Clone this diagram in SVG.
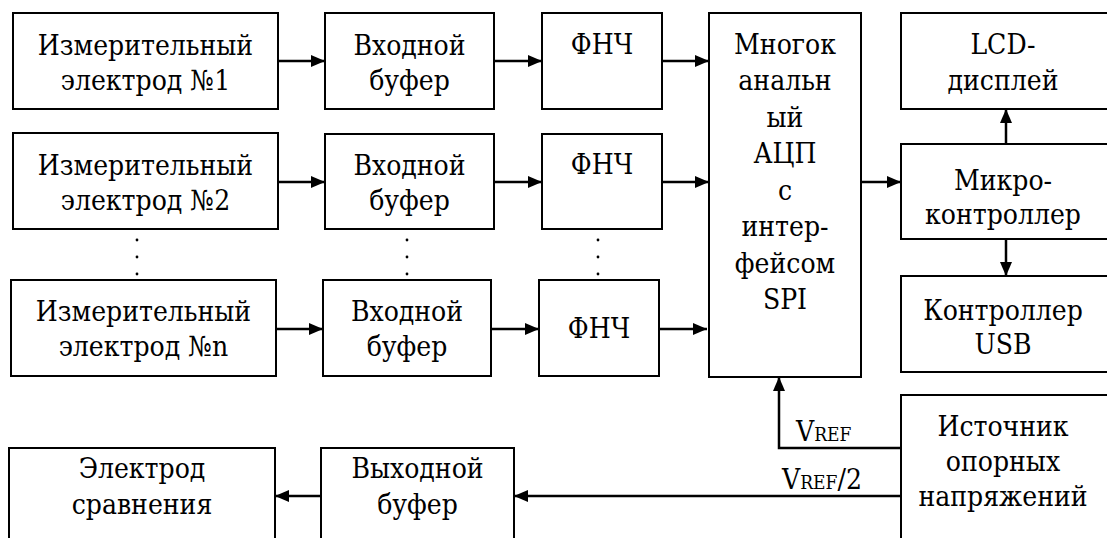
<svg xmlns="http://www.w3.org/2000/svg" width="1107" height="538" viewBox="0 0 1107 538">
<style>
.box{fill:#fff;stroke:#000;stroke-width:2}
text{font-family:"DejaVu Serif Condensed","DejaVu Serif",serif;font-stretch:condensed;font-size:28px;fill:#000}
.t{text-anchor:middle}
.sub{font-size:19px}
.c{stroke:#000;stroke-width:2.5;fill:none}
</style>
<defs>
<marker id="ah" viewBox="0 0 14 12" refX="14" refY="6" markerWidth="14" markerHeight="12" markerUnits="userSpaceOnUse" orient="auto">
<path d="M0,0 L14,6 L0,12 Z" fill="#000"/>
</marker>
</defs>
<rect width="1107" height="538" fill="#fff"/>
<g id="el1"><rect class="box" x="13" y="13" width="265" height="96"/><text class="t" x="145.5" y="55">Измерительный</text><text class="t" x="145.5" y="90">электрод №1</text></g>
<g id="el2"><rect class="box" x="13" y="133" width="265" height="96"/><text class="t" x="145.5" y="175">Измерительный</text><text class="t" x="145.5" y="210">электрод №2</text></g>
<g id="eln"><rect class="box" x="11" y="280" width="265" height="96"/><text class="t" x="143.5" y="321">Измерительный</text><text class="t" x="143.5" y="356">электрод №n</text></g>
<g id="buf1"><rect class="box" x="325" y="13" width="169" height="96"/><text class="t" x="409.5" y="55">Входной</text><text class="t" x="409.5" y="90">буфер</text></g>
<g id="buf2"><rect class="box" x="325" y="134" width="169" height="95"/><text class="t" x="409.5" y="175">Входной</text><text class="t" x="409.5" y="210">буфер</text></g>
<g id="bufn"><rect class="box" x="323" y="280" width="168" height="96"/><text class="t" x="407" y="321">Входной</text><text class="t" x="407" y="356">буфер</text></g>
<g id="lpf1"><rect class="box" x="542" y="13" width="120" height="96"/><text class="t" x="602" y="54">ФНЧ</text></g>
<g id="lpf2"><rect class="box" x="542" y="134" width="120" height="95"/><text class="t" x="602" y="174">ФНЧ</text></g>
<g id="lpfn"><rect class="box" x="539" y="280" width="120" height="96"/><text class="t" x="599" y="338">ФНЧ</text></g>
<g id="adc"><rect class="box" x="709" y="13" width="152" height="364"/>
<text class="t" x="785" y="54">Многок</text><text class="t" x="785" y="90">анальн</text><text class="t" x="785" y="127">ый</text><text class="t" x="785" y="163">АЦП</text><text class="t" x="785" y="200">с</text><text class="t" x="785" y="236">интер-</text><text class="t" x="785" y="273">фейсом</text><text class="t" x="785" y="309">SPI</text></g>
<g id="lcd"><rect class="box" x="901" y="13" width="210" height="96"/><text class="t" x="1003" y="54">LCD-</text><text class="t" x="1003" y="90">дисплей</text></g>
<g id="mcu"><rect class="box" x="901" y="144" width="210" height="95"/><text class="t" x="1003" y="190">Микро-</text><text class="t" x="1003" y="224">контроллер</text></g>
<g id="usb"><rect class="box" x="901" y="276" width="210" height="96"/><text class="t" x="1003" y="320">Контроллер</text><text class="t" x="1003" y="354">USB</text></g>
<g id="ref"><rect class="box" x="901" y="395" width="210" height="160"/><text class="t" x="1003" y="436">Источник</text><text class="t" x="1003" y="471">опорных</text><text class="t" x="1003" y="506">напряжений</text></g>
<g id="refel"><rect class="box" x="9" y="448" width="266" height="110"/><text class="t" x="142" y="478">Электрод</text><text class="t" x="142" y="514">сравнения</text></g>
<g id="outbuf"><rect class="box" x="321" y="448" width="193" height="110"/><text class="t" x="417.5" y="478">Выходной</text><text class="t" x="417.5" y="514">буфер</text></g>
<g id="dots" fill="#000">
<circle cx="137" cy="240" r="1.4"/><circle cx="137" cy="257" r="1.4"/><circle cx="137" cy="274" r="1.4"/>
<circle cx="407" cy="240" r="1.4"/><circle cx="407" cy="257" r="1.4"/><circle cx="407" cy="274" r="1.4"/>
<circle cx="598" cy="240" r="1.4"/><circle cx="598" cy="257" r="1.4"/><circle cx="598" cy="274" r="1.4"/>
</g>
<g id="connectors" class="c">
<line class="c" x1="278" y1="61" x2="325" y2="61" marker-end="url(#ah)"/>
<line class="c" x1="494" y1="61" x2="542" y2="61" marker-end="url(#ah)"/>
<line class="c" x1="662" y1="61" x2="709" y2="61" marker-end="url(#ah)"/>
<line class="c" x1="278" y1="182" x2="325" y2="182" marker-end="url(#ah)"/>
<line class="c" x1="494" y1="182" x2="542" y2="182" marker-end="url(#ah)"/>
<line class="c" x1="662" y1="182" x2="709" y2="182" marker-end="url(#ah)"/>
<line class="c" x1="276" y1="329" x2="323" y2="329" marker-end="url(#ah)"/>
<line class="c" x1="491" y1="329" x2="539" y2="329" marker-end="url(#ah)"/>
<line class="c" x1="659" y1="329" x2="707" y2="329" marker-end="url(#ah)"/>
<line class="c" x1="861" y1="182" x2="901" y2="182" marker-end="url(#ah)"/>
<line class="c" x1="1006" y1="144" x2="1006" y2="109" marker-end="url(#ah)"/>
<line class="c" x1="1006" y1="239" x2="1006" y2="276" marker-end="url(#ah)"/>
<polyline class="c" points="901,448 779,448 779,377" marker-end="url(#ah)"/>
<line class="c" x1="901" y1="496" x2="514" y2="496" marker-end="url(#ah)"/>
<line class="c" x1="321" y1="496" x2="275" y2="496" marker-end="url(#ah)"/>
</g>
<g id="labels">
<text x="796" y="441">V<tspan class="sub">REF</tspan></text>
<text x="782" y="489">V<tspan class="sub">REF</tspan>/2</text>
</g>
</svg>
